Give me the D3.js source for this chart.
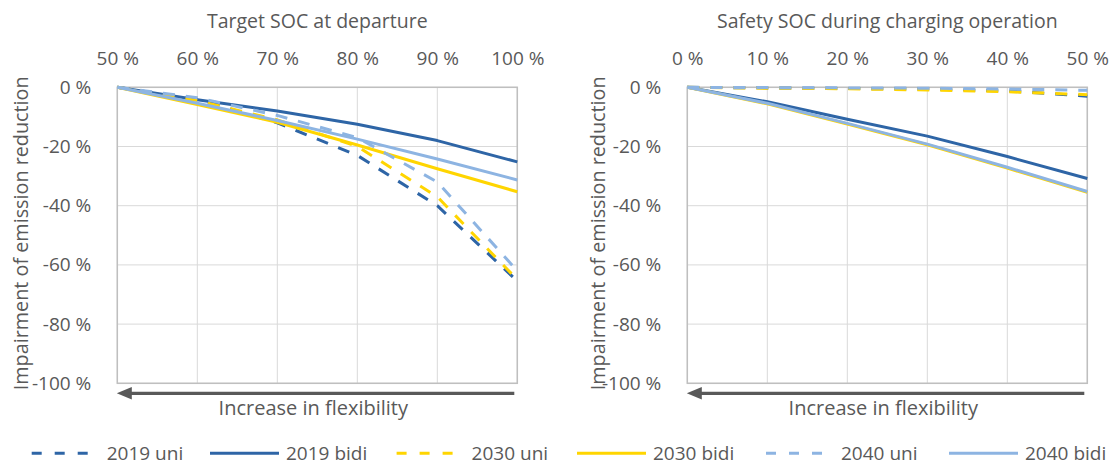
<!DOCTYPE html>
<html>
<head>
<meta charset="utf-8">
<script src="https://cdn.jsdelivr.net/npm/d3@7"></script>
<style>
  html, body { margin: 0; padding: 0; background: #fff; }
  svg text { font-family: "Open Sans", "Noto Sans", sans-serif; fill: #595959; }
</style>
</head>
<body>
<svg id="chart" width="1116" height="465"></svg>
<script>
// Target SOC at departure (x) vs. impairment of emission reduction (%)
const targetSoc = [50, 60, 70, 80, 90, 100];
const target2019uni  = [0, -4.0, -12.0, -23.0, -40.0, -65.5];
const target2019bidi = [0, -4.2, -8.0, -12.5, -18.0, -25.2];
const target2030uni  = [0, -4.5, -11.0, -20.0, -37.0, -65.0];
const target2030bidi = [0, -5.8, -11.8, -19.5, -27.5, -35.3];
const target2040uni  = [0, -3.5, -9.5, -17.0, -32.0, -62.0];
const target2040bidi = [0, -5.4, -11.2, -17.5, -24.2, -31.3];

// Safety SOC during charging operation (x)
const safetySoc = [0, 10, 20, 30, 40, 50];
const safety2019uni  = [0, -0.2, -0.4, -0.6, -1.2, -3.0];
const safety2019bidi = [0, -4.9, -10.8, -16.5, -23.4, -30.8];
const safety2030uni  = [0, -0.3, -0.5, -0.9, -1.5, -2.5];
const safety2030bidi = [0, -5.6, -12.4, -19.4, -27.3, -35.5];
const safety2040uni  = [0, -0.1, -0.2, -0.3, -0.6, -1.0];
const safety2040bidi = [0, -5.4, -12.2, -19.2, -27.0, -35.2];

const yTicks = [0, -20, -40, -60, -80, -100];
const seriesNames = ["2019 uni", "2019 bidi", "2030 uni", "2030 bidi", "2040 uni", "2040 bidi"];
const seriesColors = ["#2E65A6", "#2E65A6", "#FFD500", "#FFD500", "#8DB4E2", "#8DB4E2"];
const seriesDashed = [true, false, true, false, true, false];

const panels = [
  { title: "Target SOC at departure", xVals: targetSoc, xDomain: [50, 100], left: 117.3, yTitleOffset: 96,
    series: [target2019uni, target2019bidi, target2030uni, target2030bidi, target2040uni, target2040bidi] },
  { title: "Safety SOC during charging operation", xVals: safetySoc, xDomain: [0, 50], left: 687.3, yTitleOffset: 89,
    series: [safety2019uni, safety2019bidi, safety2030uni, safety2030bidi, safety2040uni, safety2040bidi] }
];

const svg = d3.select("#chart");
const plotW = 400, plotTop = 87.3, plotH = 296;
const fmtPct = d => (d < 0 ? "-" : "") + Math.abs(d) + " %";

panels.forEach(p => {
  const x = d3.scaleLinear().domain(p.xDomain).range([p.left, p.left + plotW]);
  const y = d3.scaleLinear().domain([0, -100]).range([plotTop, plotTop + plotH]);
  const g = svg.append("g");

  // grid
  g.selectAll("line.vg").data(p.xVals).join("line")
    .attr("x1", d => x(d)).attr("x2", d => x(d))
    .attr("y1", plotTop).attr("y2", plotTop + plotH)
    .attr("stroke", "#D9D9D9").attr("stroke-width", 1);
  g.selectAll("line.hg").data(yTicks).join("line")
    .attr("x1", p.left).attr("x2", p.left + plotW)
    .attr("y1", d => y(d)).attr("y2", d => y(d))
    .attr("stroke", "#D9D9D9").attr("stroke-width", 1);
  g.append("rect")
    .attr("x", p.left).attr("y", plotTop).attr("width", plotW).attr("height", plotH)
    .attr("fill", "none").attr("stroke", "#BFBFBF").attr("stroke-width", 1.5);

  // top axis
  const xAxis = d3.axisTop(x).tickValues(p.xVals).tickFormat(d => d + " %").tickSize(0).tickPadding(0);
  const xg = g.append("g").attr("transform", `translate(0,${plotTop - 22})`).call(xAxis);
  xg.select(".domain").remove();
  xg.selectAll("text").attr("font-size", 19).attr("fill", "#595959")
    .attr("font-family", "Open Sans, sans-serif");

  // left axis
  const yAxis = d3.axisLeft(y).tickValues(yTicks).tickFormat(fmtPct).tickSize(0).tickPadding(0);
  const yg = g.append("g").attr("transform", `translate(${p.left - 26},0)`).call(yAxis);
  yg.select(".domain").remove();
  yg.selectAll("text").attr("font-size", 19).attr("fill", "#595959")
    .attr("font-family", "Open Sans, sans-serif");

  // titles
  g.append("text").attr("x", p.left + plotW / 2).attr("y", 28)
    .attr("text-anchor", "middle").attr("font-size", 19.5).text(p.title);
  g.append("text")
    .attr("transform", `translate(${p.left - p.yTitleOffset},${plotTop + plotH / 2 - 2}) rotate(-90)`)
    .attr("text-anchor", "middle").attr("dy", "0.35em").attr("font-size", 19.8)
    .text("Impairment of emission reduction");

  // series lines
  const line = d3.line().x((d, i) => x(p.xVals[i])).y(d => y(d));
  p.series.forEach((vals, i) => {
    g.append("path").datum(vals)
      .attr("d", line)
      .attr("fill", "none")
      .attr("stroke", seriesColors[i])
      .attr("stroke-width", 3)
      .attr("stroke-linejoin", "round")
      .attr("stroke-dasharray", seriesDashed[i] ? "12,11" : null);
  });

  // flexibility arrow
  const ay = 393.3;
  g.append("line")
    .attr("x1", p.left + plotW - 3).attr("x2", p.left + 12)
    .attr("y1", ay).attr("y2", ay)
    .attr("stroke", "#595959").attr("stroke-width", 3.3);
  g.append("path")
    .attr("d", `M${p.left - 0.5},${ay} L${p.left + 14.5},${ay - 6.3} L${p.left + 14.5},${ay + 6.3} Z`)
    .attr("fill", "#595959");
  g.append("text").attr("x", p.left + plotW / 2 - 4).attr("y", 415)
    .attr("text-anchor", "middle").attr("font-size", 20).text("Increase in flexibility");
});

// legend
const legendX = [31.7, 210, 396.6, 577, 766, 949];
const legend = svg.append("g");
seriesNames.forEach((name, i) => {
  const lx = legendX[i];
  const dashed = seriesDashed[i];
  const w = dashed ? 58 : 69;
  legend.append("line")
    .attr("x1", lx).attr("x2", lx + w).attr("y1", 453.3).attr("y2", 453.3)
    .attr("stroke", seriesColors[i]).attr("stroke-width", 3)
    .attr("stroke-dasharray", dashed ? "10,13" : null);
  legend.append("text")
    .attr("x", lx + w + (dashed ? 17 : 7)).attr("y", 453.3).attr("dy", "0.35em")
    .attr("font-size", 19).text(name);
});
</script>
</body>
</html>
